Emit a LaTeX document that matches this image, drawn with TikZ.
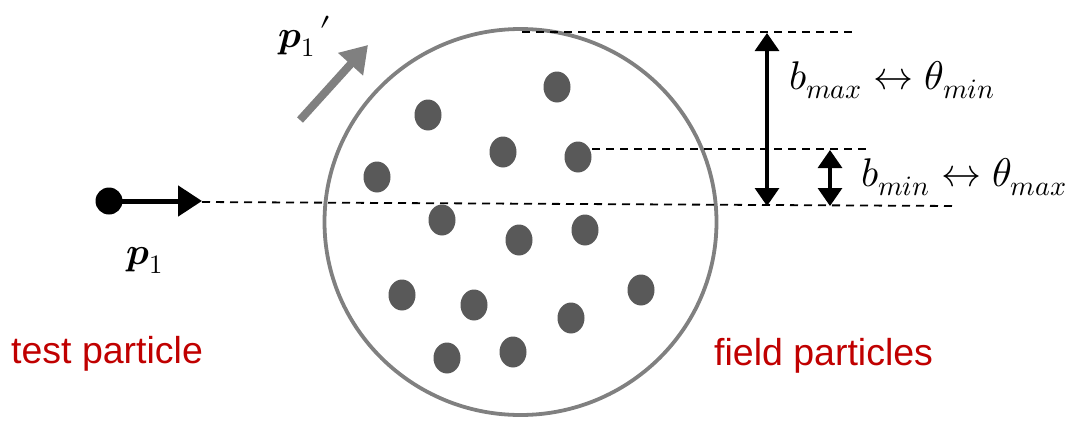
\documentclass[tikz,border=0pt]{standalone}
\usepackage{fontspec}
\usepackage{unicode-math}
\setmainfont{Liberation Sans}
\setmathfont{Latin Modern Math}
\usetikzlibrary{arrows.meta,shapes.geometric}
\definecolor{ringgray}{RGB}{128,128,128}
\definecolor{dotgray}{RGB}{89,89,89}
\definecolor{labred}{RGB}{192,0,0}
\tikzset{
  fieldp/.style={ellipse, fill=dotgray, minimum width=27pt, minimum height=31pt, inner sep=0pt},
  guide/.style={dashed, dash pattern=on 8pt off 6pt, line width=1.8pt, black},
  dimarrow/.style={line width=3.2pt, {Triangle[length=18pt,width=24pt]}-{Triangle[length=18pt,width=24pt]}},
  redlabel/.style={text=labred, font=\fontsize{37.5}{42}\selectfont, inner sep=0pt, anchor=base west},
  mathlabel/.style={font=\fontsize{40}{44}\selectfont, inner sep=0pt, anchor=base west},
  plabel/.style={font=\fontsize{38}{44}\selectfont, inner sep=0pt, anchor=base west}
}
\begin{document}
\begin{tikzpicture}[x=1pt,y=-1pt]
\useasboundingbox (0,0) rectangle (1071,426);
% ring
\node[draw=ringgray, line width=3.8pt, ellipse, minimum width=392pt, minimum height=386pt, inner sep=0pt] (ring) at (520.5,222) {};
% field particles
\foreach \n/\x/\y in {a/557/87, b/428/115, c/503/152, d/578/157, e/377/177, f/442/220, g/519/240, h/585/230, i/402/295, j/474/305, k/641/290, l/571/318, m/447/358, n/513/352}
  \node[fieldp] (fp\n) at (\x,\y) {};
% test particle
\node[circle, fill=black, minimum size=27pt, inner sep=0pt] (tp) at (109,201) {};
\coordinate (tphead) at (202,201);
\draw[line width=5pt, -{Triangle[length=24pt,width=30pt]}] (tp.center) -- (tphead);
% guide lines
\coordinate (g1a) at (202,202); \coordinate (g1b) at (955,206);
\coordinate (g2a) at (592,149); \coordinate (g2b) at (870,149);
\coordinate (g3a) at (522,32);  \coordinate (g3b) at (857,32);
\draw[guide] (g1a) -- (g1b);
\draw[guide] (g2a) -- (g2b);
\draw[guide] (g3a) -- (g3b);
% dimension arrows
\coordinate (bmaxT) at (767,33); \coordinate (bmaxB) at (767,206);
\coordinate (bminT) at (830,150); \coordinate (bminB) at (830,206);
\draw[dimarrow] (bmaxT) -- (bmaxB);
\draw[dimarrow] (bminT) -- (bminB);
% deflected momentum arrow
\coordinate (p1s) at (300,120); \coordinate (p1e) at (368,45);
\draw[ringgray, line width=8pt, -{Triangle[length=26pt,width=32pt]}] (p1s) -- (p1e);
% labels
\node[mathlabel] (lmax) at (789,89) {$b_{max}\leftrightarrow\theta_{min}$};
\node[mathlabel] (lmin) at (861,186) {$b_{min}\leftrightarrow\theta_{max}$};
\node[plabel] (lp1) at (126,264) {$\symbfit{p}_1$};
\node[plabel] (lp1p) at (278,47) {$\symbfit{p}_1\mkern2mu\raisebox{3pt}{$\prime$}$};
\node[redlabel] (ltest) at (11,363) {test particle};
\node[redlabel] (lfield) at (714,365) {field particles};
\end{tikzpicture}
\end{document}
